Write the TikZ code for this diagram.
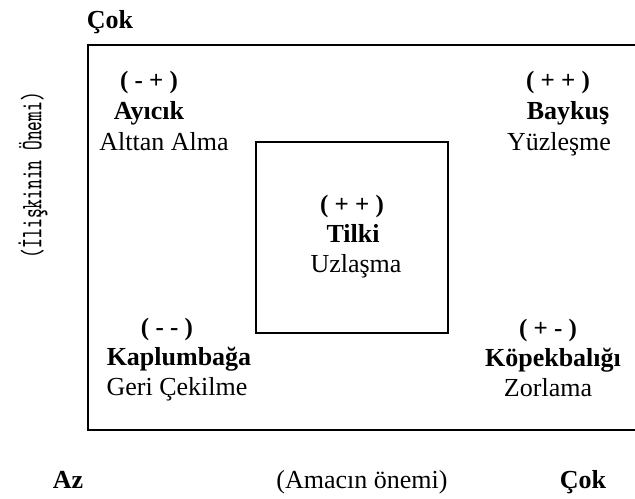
\documentclass[tikz,border=0pt]{standalone}
\usepackage{fontspec}
\setmainfont{Liberation Serif}
\usepackage{tikz}

\begin{document}
\begin{tikzpicture}[x=0.5pt,y=-0.5pt,
        sign/.style={anchor=base,font=\fontsize{12.5}{14}\selectfont\bfseries},
        animal/.style={anchor=base,font=\fontsize{13}{15}\selectfont\bfseries},
        way/.style={anchor=base,font=\fontsize{13}{15}\selectfont}]
            \useasboundingbox (0,0) rectangle (635,498);

            % outer frame, right side runs off the page
            \draw[line width=1.1pt] (640,45) -- (88,45) -- (88,430) -- (640,430);
            \draw[line width=0.8pt] (256,142) rectangle (448,333);

            % upper left
            \node[sign] (ayicikSign) at (149,88) {( - + )};
            \node[animal] (ayicik) at (149,119) {Ayıcık};
            \node[way] (alttan) at (164,150) {Alttan Alma};

            % upper right
            \node[sign] (baykusSign) at (558,88) {( + + )};
            \node[animal] (baykus) at (568,119) {Baykuş};
            \node[way] (yuzlesme) at (559,150) {Yüzleşme};

            % middle
            \node[sign] (tilkiSign) at (352,212) {( + + )};
            \node[animal] (tilki) at (353,242) {Tilki};
            \node[way] (uzlasma) at (356,272) {Uzlaşma};

            % lower left
            \node[sign] (kaplumbagaSign) at (167,335) {( - - )};
            \node[animal] (kaplumbaga) at (179,365) {Kaplumbağa};
            \node[way] (geri) at (177,395) {Geri Çekilme};

            % lower right
            \node[sign] (kopekSign) at (548,336) {( + - )};
            \node[animal] (kopek) at (553,366) {Köpekbalığı};
            \node[way] (zorlama) at (548,396) {Zorlama};

            % axes
            \node[animal] (cokTop) at (110,28) {Çok};
            \node[animal] (az) at (68,488) {Az};
            \node[way] (amac) at (362,488) {(Amacın önemi)};
            \node[animal] (cokRight) at (583,488) {Çok};
            \node[rotate=90,font=\fontsize{9.3}{11}\ttfamily] (iliski) at (33,175)
                {\scalebox{1}[1.6]{(İlişkinin Önemi)}};
        \end{tikzpicture}
\end{document}
